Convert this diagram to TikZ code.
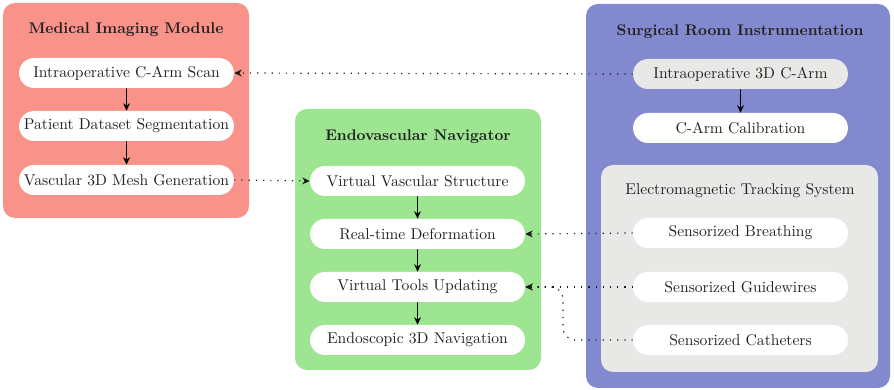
\documentclass[tikz,border=0pt]{standalone}
\usetikzlibrary{arrows.meta,shapes.misc}
\definecolor{imgred}{RGB}{249,146,137}
\definecolor{navgreen}{RGB}{158,229,145}
\definecolor{roomblue}{RGB}{131,137,206}
\definecolor{trackgray}{RGB}{232,232,230}
\definecolor{ink}{RGB}{34,34,34}
\begin{document}
\begin{tikzpicture}[x=0.6667pt,y=-0.6667pt,
  font=\fontsize{10.4}{12.5}\selectfont, text=ink,
  item/.style={rounded rectangle, fill=white, minimum width=143.3pt, minimum height=20pt, inner sep=0pt},
  title/.style={font=\fontsize{10.3}{12.5}\selectfont\bfseries, inner sep=0pt},
  flow/.style={-{Stealth[length=5pt,width=4.6pt]}, semithick, black},
  link/.style={-{Stealth[length=5pt,width=4.6pt]}, thick, loosely dotted, black!90},
  panel/.style={rounded corners=8pt}]
\useasboundingbox (0,0) rectangle (894,390);

% group panels
\fill[imgred, panel] (3,3) rectangle (249,218);
\fill[navgreen, panel] (295,109) rectangle (541,370);
\fill[roomblue, panel] (586,4) rectangle (890,388);
\fill[trackgray, panel] (601,165) rectangle (878,372);

% panel titles
\node[title] (tImg) at (126,30) {Medical Imaging Module};
\node[title] (tNav) at (418,137) {Endovascular Navigator};
\node[title] (tRoom) at (740,32) {Surgical Room Instrumentation};
\node[inner sep=0pt] (tEm) at (740,191) {Electromagnetic Tracking System};

% medical imaging module
\node[item] (scan) at (126.5,73) {Intraoperative C-Arm Scan};
\node[item] (seg) at (126.5,126) {Patient Dataset Segmentation};
\node[item] (mesh) at (126.5,180) {Vascular 3D Mesh Generation};

% endovascular navigator
\node[item] (vvs) at (417.5,181) {Virtual Vascular Structure};
\node[item] (def) at (417.5,234) {Real-time Deformation};
\node[item] (tools) at (417.5,287) {Virtual Tools Updating};
\node[item] (endo) at (417.5,340) {Endoscopic 3D Navigation};

% surgical room instrumentation
\node[item, fill=trackgray] (carm) at (740.5,74) {Intraoperative 3D C-Arm};
\node[item] (calib) at (740.5,128) {C-Arm Calibration};
\node[item] (breath) at (740.5,233) {Sensorized Breathing};
\node[item] (guide) at (740.5,287) {Sensorized Guidewires};
\node[item] (cath) at (740.5,340) {Sensorized Catheters};

% processing flow
\draw[flow] (scan) -- (seg);
\draw[flow] (seg) -- (mesh);
\draw[flow] (vvs) -- (def);
\draw[flow] (def) -- (tools);
\draw[flow] (tools) -- (endo);
\draw[flow] (carm) -- (calib);

% data links between modules
\draw[link] (carm.west) -- (scan.east);
\draw[link] (mesh.east) -- (vvs.west);
\draw[link] (breath.west) -- (def.east);
\draw[link] (guide.west) -- (tools.east);
\draw[link, rounded corners=8pt] (cath.west) -- (563,340) -- (563,287) -- (tools.east);
\end{tikzpicture}
\end{document}
